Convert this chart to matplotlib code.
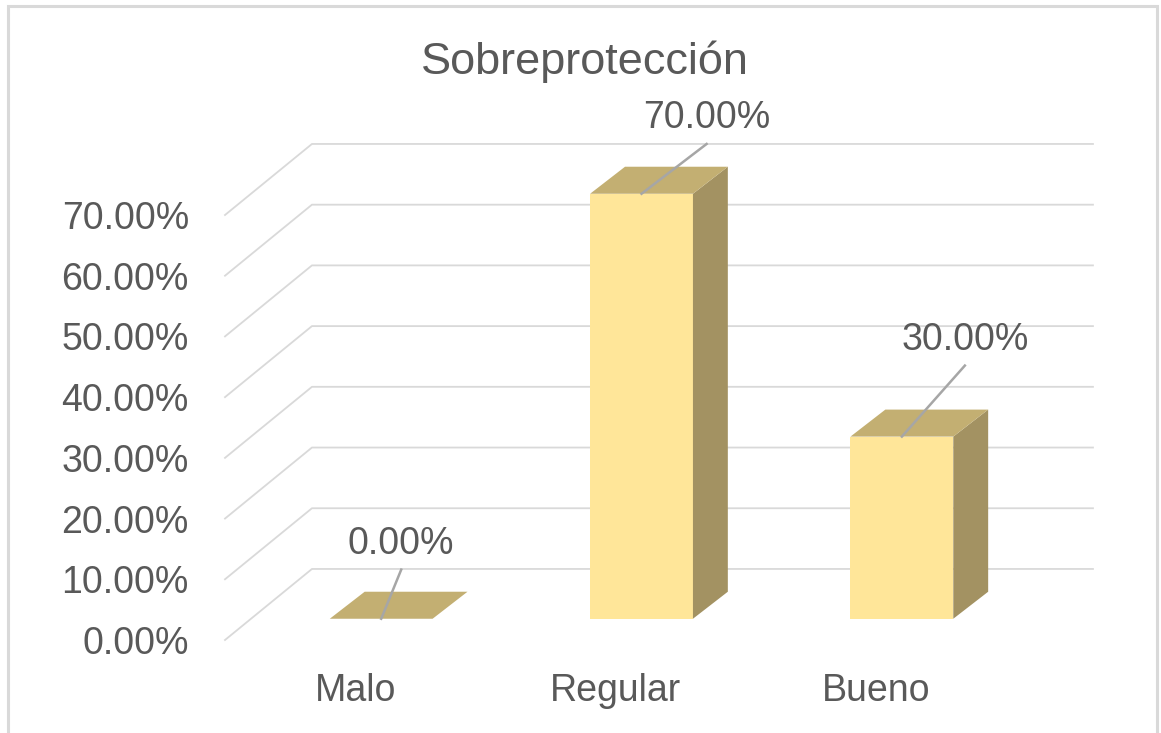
import matplotlib
matplotlib.use("Agg")
import matplotlib.pyplot as plt
from matplotlib.patches import Polygon, Rectangle
from matplotlib.ticker import FuncFormatter

# data
categories = ["Malo", "Regular", "Bueno"]
values = [0.0, 70.0, 30.0]
y_ticks = [0, 10, 20, 30, 40, 50, 60, 70]
title = "Sobreprotección"

# colours
face_front = "#FFE699"
face_top = "#C3AF72"
face_side = "#A39262"
grid_color = "#D9D9D9"
text_color = "#595959"
leader_color = "#A6A6A6"

# fake 3D geometry, in data units
wall_dx, wall_dy = 0.334, 11.7     # front plane -> back wall
front_dx, front_dy = 0.1, 3.5      # front plane -> bar front face
bar_dx, bar_dy = 0.134, 4.45       # bar depth
bar_w = 0.395
# leader line end, relative to the top-front centre of each bar
leader_off = [(0.077, 8.1), (0.25, 8.2), (0.242, 11.7)]
label_gap = 2.6

plt.rcParams['font.family'] = ['Liberation Sans', 'DejaVu Sans']
fig = plt.figure(figsize=(11.61, 7.33), dpi=100)
ax = fig.add_axes([225 / 1161, 93 / 733, 781 / 1161, 425 / 733])
ax.set_xlim(-0.5, 2.5)
ax.set_ylim(0, 70)
ax.patch.set_alpha(0)
for s in ax.spines.values():
    s.set_visible(False)

ax.set_yticks(y_ticks)
ax.yaxis.set_major_formatter(FuncFormatter(lambda v, p: f"{v:.2f}%"))
ax.set_xticks(range(len(categories)))
ax.set_xticklabels(categories)
ax.tick_params(axis='y', length=0, pad=26, labelsize=27, labelcolor=text_color)
ax.tick_params(axis='x', length=0, pad=24, labelsize=27, labelcolor=text_color)

# gridlines: diagonal on the side wall + horizontal on the back wall
x0, x1 = ax.get_xlim()
for v in y_ticks:
    ax.plot([x0, x0 + wall_dx, x1 + wall_dx], [v, v + wall_dy, v + wall_dy],
            color=grid_color, lw=1.3, clip_on=False, zorder=1)

# bars
xs = [i + front_dx for i in range(len(categories))]
ax.bar(xs, values, bar_w, bottom=front_dy, color=face_front, zorder=3,
       clip_on=False)
for x, val in zip(xs, values):
    xl, xr = x - bar_w / 2, x + bar_w / 2
    y0, y1 = front_dy, val + front_dy
    top = Polygon([(xl, y1), (xr, y1), (xr + bar_dx, y1 + bar_dy), (xl + bar_dx, y1 + bar_dy)],
                  closed=True, fc=face_top, ec='none', zorder=3, clip_on=False)
    side = Polygon([(xr, y0), (xr, y1), (xr + bar_dx, y1 + bar_dy), (xr + bar_dx, y0 + bar_dy)],
                   closed=True, fc=face_side, ec='none', zorder=3, clip_on=False)
    ax.add_patch(side)
    ax.add_patch(top)

# data labels with leader lines
for x, val, (ox, oy) in zip(xs, values, leader_off):
    sy = val + front_dy
    ax.plot([x, x + ox], [sy, sy + oy], color=leader_color, lw=1.8,
            clip_on=False, zorder=4)
    ax.text(x + ox, sy + oy + label_gap, f"{val:.2f}%", ha='center', va='baseline',
            fontsize=27, color=text_color, zorder=5)

fig.text(585 / 1161, 1 - 62 / 733, title, ha='center', va='center',
         fontsize=32.5, color=text_color)

fig.add_artist(Rectangle((8 / 1161, -0.01), 1149 / 1161, 1 - 6 / 733 + 0.01,
                         transform=fig.transFigure, fill=False, ec='#D9D9D9', lw=2.2))

fig.savefig("out.png", dpi=100)
